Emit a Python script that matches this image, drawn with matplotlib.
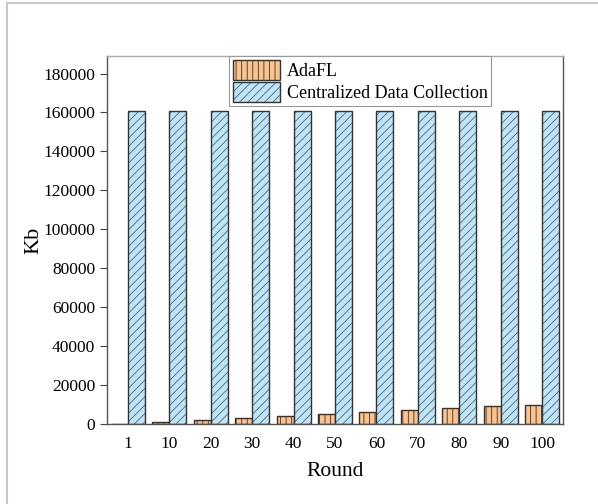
import numpy as np
import matplotlib.pyplot as plt
from matplotlib.lines import Line2D

plt.rcParams['font.family'] = ['Liberation Serif', 'DejaVu Serif']
plt.rcParams['hatch.linewidth'] = 0.6

# Communication cost per round (Kb)
rounds = ['1', '10', '20', '30', '40', '50', '60', '70', '80', '90', '100']
adafl = [100, 1000, 2000, 3000, 4000, 5000, 6000, 7000, 8000, 9000, 10000]
centralized = [161000, 161000, 161000, 161000, 161000, 161000,
               161000, 161000, 161000, 161000, 161000]

fig = plt.figure(figsize=(5.98, 5.04), dpi=100)
ax = fig.add_axes([107 / 598, 1 - 424 / 504, 456 / 598, 368 / 504])

x = np.arange(len(rounds))
w = 0.41
plt.rcParams['hatch.color'] = '#8a5a2b'
ax.bar(x, adafl, width=-w, align='edge', color='#fbc28e', edgecolor='#333333',
       linewidth=1.0, hatch='|||', label='AdaFL')
b = ax.bar(x, centralized, width=w, align='edge', color='#bfe4f6', edgecolor='#333333',
           linewidth=1.0, hatch='////', label='Centralized Data Collection')
for p in b:
    p._hatch_color = (0.3, 0.4, 0.5, 1.0)

ax.set_xlim(-0.5, 10.5)
ax.set_ylim(0, 189000)
ax.set_xticks(x)
ax.set_xticklabels(rounds)
ax.set_yticks(np.arange(0, 180001, 20000))
ax.tick_params(axis='x', length=0, labelsize=12.5, pad=9)
ax.tick_params(axis='y', direction='out', length=5, labelsize=12.5, color='#444444')
for s in ax.spines.values():
    s.set_color('#555555')
    s.set_linewidth(1.0)
ax.spines['top'].set_color('#aaaaaa')

ax.set_xlabel('Round', fontsize=15.5, labelpad=7)
ax.set_ylabel('Kb', fontsize=16, labelpad=0)

leg = ax.legend(loc='upper left', bbox_to_anchor=(0.268, 1.0), fontsize=13,
                frameon=True, fancybox=False, edgecolor='#999999', framealpha=1,
                borderpad=0.2, handlelength=2.6, handleheight=1.35,
                handletextpad=0.4, labelspacing=0.1, borderaxespad=0)
leg.get_frame().set_linewidth(0.8)

# light frame around the figure
fig.add_artist(Line2D([7 / 598, 7 / 598], [0, 1 - 3 / 504], color='#c8c8c8', lw=1.5))
fig.add_artist(Line2D([7 / 598, 1], [1 - 3 / 504, 1 - 3 / 504], color='#c8c8c8', lw=1.5))

fig.savefig('out.png', dpi=100)
